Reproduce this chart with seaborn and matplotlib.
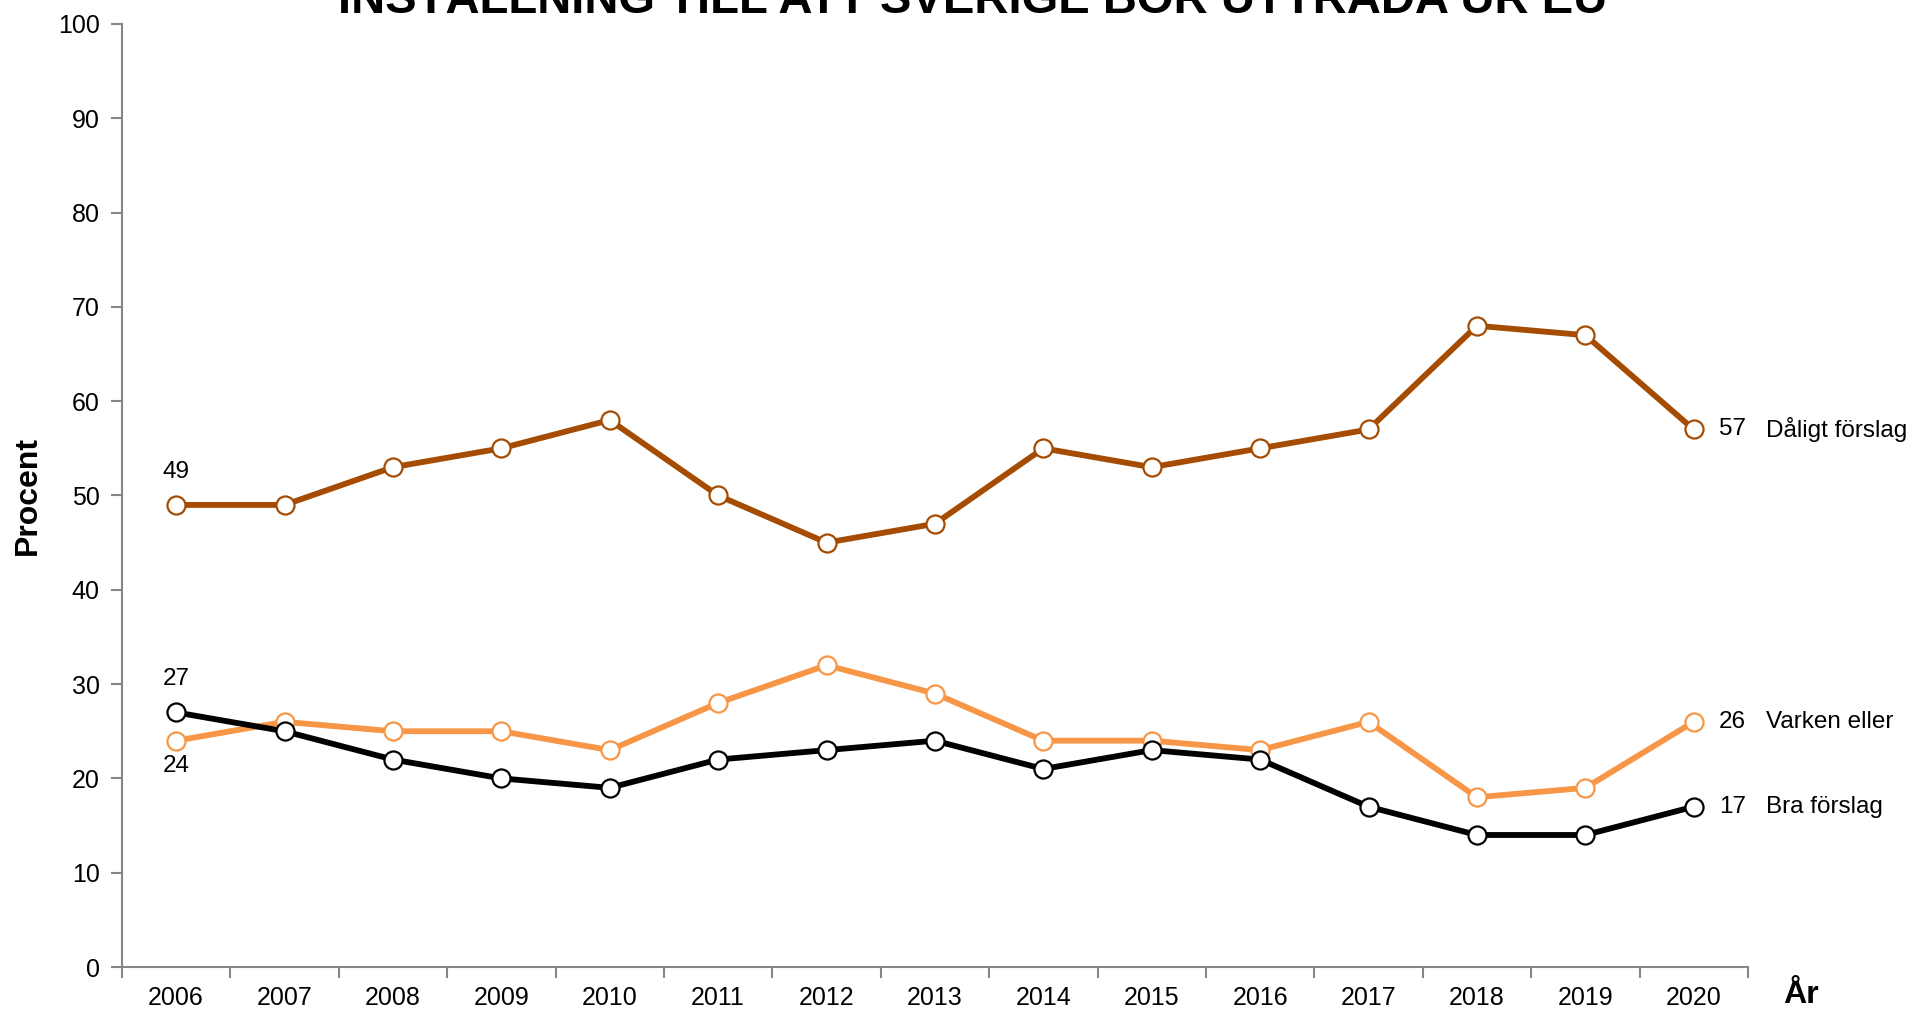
import numpy as np
import pandas as pd
import matplotlib
matplotlib.use("Agg")
import matplotlib.pyplot as plt
import seaborn as sns
from matplotlib.ticker import MultipleLocator

# Datos
years = [2006, 2007, 2008, 2009, 2010, 2011, 2012, 2013, 2014, 2015, 2016, 2017, 2018, 2019, 2020]
daligt = [49, 49, 53, 55, 58, 50, 45, 47, 55, 53, 55, 57, 68, 67, 57]
varken = [24, 26, 25, 25, 23, 28, 32, 29, 24, 24, 23, 26, 18, 19, 26]
bra = [27, 25, 22, 20, 19, 22, 23, 24, 21, 23, 22, 17, 14, 14, 17]
series_names = ["Dåligt förslag", "Varken eller", "Bra förslag"]
colors = ["#A54C02", "#F79646", "#000000"]

sns.set_theme(style="white")
plt.rcParams['font.family'] = ['Liberation Sans', 'DejaVu Sans']
plt.rcParams['text.color'] = 'black'

fig = plt.figure(figsize=(19.08, 10.11), dpi=100)
ax = fig.add_axes([0.0639, 0.0435, 0.9161 - 0.0639, 0.9763 - 0.0435])

for vals, name, col in zip([daligt, varken, bra], series_names, colors):
    sns.lineplot(x=years, y=vals, ax=ax, color=col, linewidth=4.2, marker='o',
                 markersize=13, markerfacecolor='white', markeredgecolor=col,
                 markeredgewidth=1.6)
    # Etiqueta al final de la serie
    ax.annotate(str(vals[-1]), (years[-1], vals[-1]), xytext=(18, 0),
                textcoords='offset points', va='center', ha='left', fontsize=17.5, color='black')
    ax.annotate(name, (years[-1], vals[-1]), xytext=(52, 0),
                textcoords='offset points', va='center', ha='left', fontsize=17.5, color='black')

# Etiquetas del primer año
ax.annotate(str(daligt[0]), (years[0], daligt[0]), xytext=(0, 16), textcoords='offset points',
            ha='center', va='bottom', fontsize=17.5)
ax.annotate(str(bra[0]), (years[0], bra[0]), xytext=(0, 16), textcoords='offset points',
            ha='center', va='bottom', fontsize=17.5)
ax.annotate(str(varken[0]), (years[0], varken[0]), xytext=(0, -10), textcoords='offset points',
            ha='center', va='top', fontsize=17.5)

ax.set_xlim(2005.5, 2020.5)
ax.set_ylim(0, 100)
ax.yaxis.set_major_locator(MultipleLocator(10))
ax.set_xticks(years)
ax.set_xticklabels([str(y) for y in years])
ax.set_xticks(np.arange(2005.5, 2021, 1), minor=True)
ax.tick_params(axis='x', which='major', length=0, pad=14, labelsize=18, labelcolor='black')
ax.tick_params(axis='x', which='minor', length=8, width=1.5, color='#868686', direction='out', bottom=True)
ax.tick_params(axis='y', which='major', length=8, width=1.5, color='#868686', direction='out', left=True,
               labelsize=18, pad=8, labelcolor='black')

for s in ['top', 'right']:
    ax.spines[s].set_visible(False)
for s in ['left', 'bottom']:
    ax.spines[s].set_color('#868686')
    ax.spines[s].set_linewidth(1.5)

ax.set_xlabel('')
ax.set_ylabel('Procent', fontsize=23, fontweight='bold', labelpad=11, color='black')
fig.text(0.944, 0.016, 'År', fontsize=23, fontweight='bold', ha='center', va='center', color='black')

fig.text(0.51, 0.987, 'INSTÄLLNING TILL ATT SVERIGE BÖR UTTRÄDA UR EU', ha='center', va='baseline',
         fontsize=34, fontweight='bold', color='black',
         family=['Liberation Sans Narrow', 'Liberation Sans', 'DejaVu Sans'])

fig.savefig('out.png', dpi=100)
